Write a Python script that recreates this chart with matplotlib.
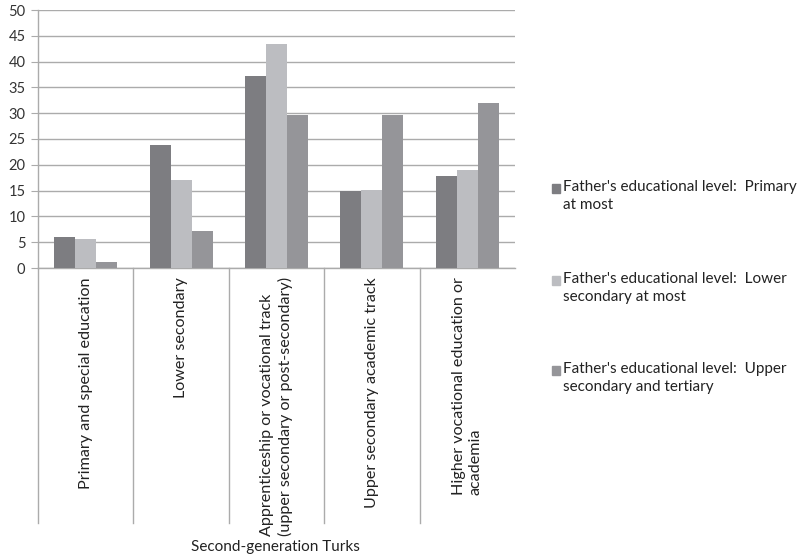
import matplotlib
matplotlib.use("Agg")
import matplotlib.pyplot as plt
from matplotlib.patches import Rectangle
import numpy as np

plt.rcParams['font.family'] = ['Lato', 'DejaVu Sans']

categories = [
    "Primary and special education",
    "Lower secondary",
    "Apprenticeship or vocational track\n(upper secondary or post-secondary)",
    "Upper secondary academic track",
    "Higher vocational education or\nacademia",
]
series_names = [
    "Father's educational level:  Primary\nat most",
    "Father's educational level:  Lower\nsecondary at most",
    "Father's educational level:  Upper\nsecondary and tertiary",
]
primary_at_most = [6.0, 23.9, 37.2, 14.9, 17.9]
lower_secondary_at_most = [5.6, 17.0, 43.4, 15.1, 18.9]
upper_secondary_tertiary = [1.2, 7.1, 29.7, 29.7, 32.0]
yticks = [0, 5, 10, 15, 20, 25, 30, 35, 40, 45, 50]
xlabel = "Second-generation Turks"

colors = ["#7d7d81", "#bcbdc1", "#959599"]
series = [primary_at_most, lower_secondary_at_most, upper_secondary_tertiary]

W, H = 803, 557
fig = plt.figure(figsize=(W / 100, H / 100), dpi=100)
ax = fig.add_axes([38 / W, 1 - 268 / H, 477 / W, 258 / H])

x = np.arange(len(categories))
bw = 0.22
for i, (vals, c) in enumerate(zip(series, colors)):
    ax.bar(x + (i - 1) * bw, vals, width=bw, color=c, zorder=3)

ax.set_xlim(-0.5, len(categories) - 0.5)
ax.set_ylim(0, 50)
ax.set_yticks(yticks)
ax.set_yticklabels([str(t) for t in yticks], fontsize=10.5, color="#333333")
ax.yaxis.grid(True, color="#ababab", linewidth=1.0, zorder=0)
ax.tick_params(axis='y', length=5, color="#ababab", pad=4)
ax.tick_params(axis='x', length=0, labelbottom=False)
for s in ["top", "right"]:
    ax.spines[s].set_visible(False)
for s in ["left", "bottom"]:
    ax.spines[s].set_color("#ababab")
    ax.spines[s].set_linewidth(1.0)

# category separators extending below the axis
depth = -(523 - 268) / 258
for k in range(len(categories)):
    ax.plot([k - 0.5, k - 0.5], [0, depth], transform=ax.get_xaxis_transform(),
            color="#ababab", linewidth=1.0, clip_on=False)

for k, cat in enumerate(categories):
    ax.text(k, -(277 - 268) / 258, cat, transform=ax.get_xaxis_transform(),
            rotation=90, ha='center', va='top', multialignment='left',
            fontsize=11.6, color="#222222", linespacing=1.25)

fig.text(275 / W, 1 - 547 / H, xlabel, ha='center', va='center', fontsize=11, color="#222222")

# legend
ys = [180, 272, 362]
for i, (name, c) in enumerate(zip(series_names, colors)):
    fig.patches.append(Rectangle((552 / W, 1 - (ys[i] + 13) / H), 8 / W, 9 / H,
                                 transform=fig.transFigure, color=c))
    fig.text(563 / W, 1 - ys[i] / H, name, ha='left', va='top',
             fontsize=11, color="#222222", linespacing=1.35)

fig.savefig("out.png", dpi=100)
